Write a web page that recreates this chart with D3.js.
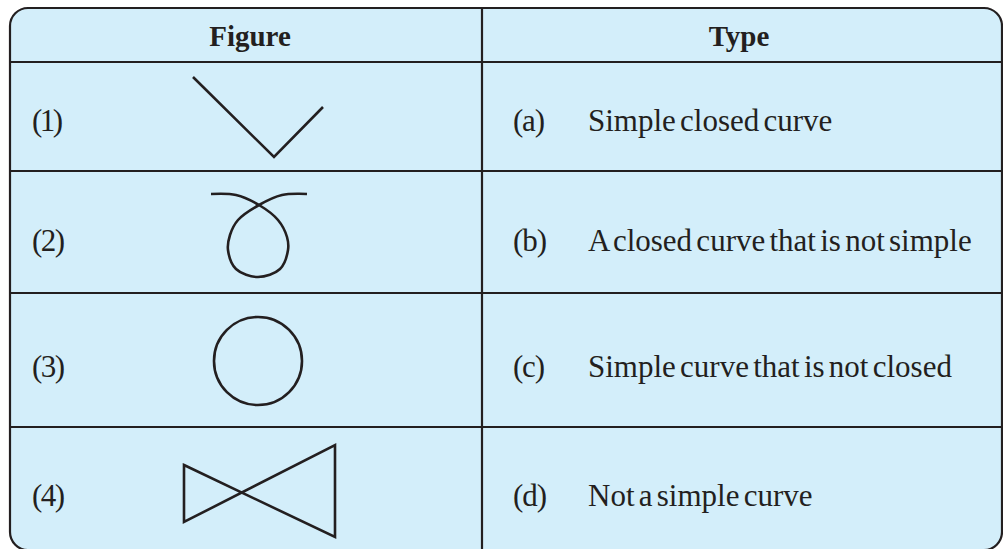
<!DOCTYPE html>
<html>
<head>
<meta charset="utf-8">
<script src="https://cdn.jsdelivr.net/npm/d3@7"></script>
<style>
  body { margin: 0; background: #fff; }
  svg { display: block; }
</style>
</head>
<body>
<div id="chart"></div>
<script>
// table content
const headers = ["Figure", "Type"];
const figureLabels = ["(1)", "(2)", "(3)", "(4)"];
const typeLetters = ["(a)", "(b)", "(c)", "(d)"];
const typeTexts = [
    "Simple closed curve",
    "A closed curve that is not simple",
    "Simple curve that is not closed",
    "Not a simple curve"
];

// figure shapes, points relative to the middle of each figure cell
const vShape = [[-65, -39.5], [16, 40.5], [65, -9.5]];
const loopShape = [[-47, -38], [-22, -37], [1, -27], [20, -12], [29, 5], [30, 18], [22, 37], [0, 45],
    [-22, 37], [-30, 18], [-28, 3], [-20, -12], [1, -27], [24, -37], [49, -38]];
const circleShape = {cx: 0, cy: 1, r: 44};
const bowtieShape = [[-74, -23.5], [77, 48.5], [77, -43.5], [-74, 33.5]];

const width = 1003, height = 549;
const ink = "#231f20";
const serif = '"Liberation Serif", "Times New Roman", serif';
const boxLeft = 10, boxRight = 1002, boxTop = 8, boxBottom = 550, split = 482;
const rowEdges = [boxTop, 62, 171, 293, 427, boxBottom];
const textBase = [131, 251, 377, 506];

const svg = d3.select("#chart").append("svg")
    .attr("width", width)
    .attr("height", height);

// background box with rounded corners
svg.append("rect")
    .attr("x", boxLeft).attr("y", boxTop)
    .attr("width", boxRight - boxLeft).attr("height", boxBottom - boxTop)
    .attr("rx", 18).attr("ry", 18)
    .attr("fill", "#d3eefa");

// row rules
svg.selectAll("line.row")
    .data(rowEdges.slice(1, -1))
    .enter()
    .append("line")
    .attr("class", "row")
    .attr("x1", boxLeft).attr("x2", boxRight)
    .attr("y1", d => d).attr("y2", d => d)
    .attr("stroke", ink)
    .attr("stroke-width", 2.2);

svg.append("line")
    .attr("x1", split).attr("x2", split)
    .attr("y1", boxTop).attr("y2", boxBottom)
    .attr("stroke", ink)
    .attr("stroke-width", 2.2);

svg.append("rect")
    .attr("x", boxLeft).attr("y", boxTop)
    .attr("width", boxRight - boxLeft).attr("height", boxBottom - boxTop)
    .attr("rx", 18).attr("ry", 18)
    .attr("fill", "none")
    .attr("stroke", ink)
    .attr("stroke-width", 2.2);

// headers
svg.selectAll("text.head")
    .data(headers)
    .enter()
    .append("text")
    .attr("class", "head")
    .attr("x", (d, i) => i == 0 ? 250 : 739)
    .attr("y", 46)
    .attr("text-anchor", "middle")
    .attr("fill", ink)
    .style("font-family", serif)
    .style("font-weight", "bold")
    .style("font-size", "29px")
    .text(d => d);

const bodyText = (cls, data, x, widths) => {
    const t = svg.selectAll("text." + cls)
        .data(data)
        .enter()
        .append("text")
        .attr("class", cls)
        .attr("x", x)
        .attr("y", (d, i) => textBase[i])
        .attr("fill", ink)
        .style("font-family", serif)
        .style("font-size", "31px")
        .style("word-spacing", "-3.5px")
        .text(d => d);
    if (widths) {
        t.attr("textLength", (d, i) => widths[i])
            .attr("lengthAdjust", "spacing");
    }
};

bodyText("fig", figureLabels, 32, [31, 33, 33, 33]);
bodyText("letter", typeLetters, 513, [32, 34, 32, 34]);
bodyText("type", typeTexts, 588, null);

// figures
const figX = 258;

const cells = [0, 1, 2, 3].map(i => svg.append("g")
    .attr("transform", `translate(${figX},${(rowEdges[i + 1] + rowEdges[i + 2]) / 2})`)
    .attr("fill", "none")
    .attr("stroke", ink)
    .attr("stroke-width", 2.6)
    .attr("stroke-linejoin", "miter"));

const straight = d3.line();
const smooth = d3.line().curve(d3.curveCatmullRom.alpha(0.5));

cells[0].append("path").attr("d", straight(vShape));
cells[1].append("path").attr("d", smooth(loopShape));
cells[2].append("circle")
    .attr("cx", circleShape.cx)
    .attr("cy", circleShape.cy)
    .attr("r", circleShape.r);
cells[3].append("path").attr("d", straight(bowtieShape) + "Z");
</script>
</body>
</html>
